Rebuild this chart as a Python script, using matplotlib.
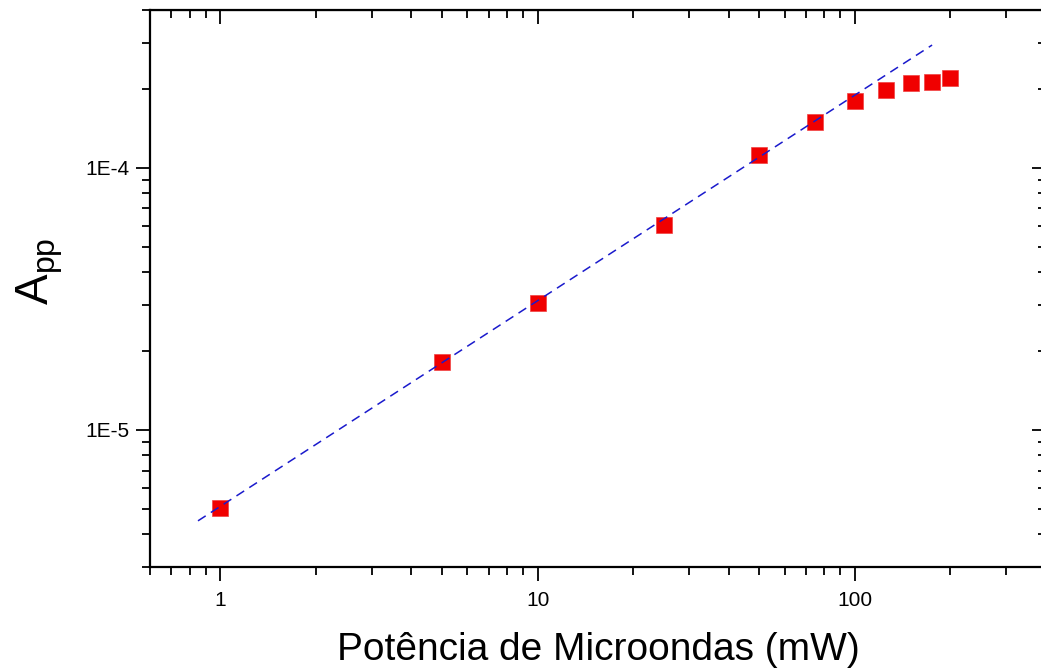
import matplotlib
matplotlib.use('Agg')
import matplotlib.pyplot as plt
from matplotlib.ticker import LogLocator, FixedLocator, FixedFormatter, NullFormatter

plt.rcParams['font.family'] = ['Liberation Sans', 'DejaVu Sans']
plt.rcParams['mathtext.fontset'] = 'custom'
plt.rcParams['mathtext.rm'] = 'Liberation Sans'

# data
power_mw = [1, 5, 10, 25, 50, 75, 100, 125, 150, 175, 200]
app = [5.05e-6, 1.81e-5, 3.04e-5, 6.07e-5, 1.12e-4, 1.50e-4, 1.80e-4,
       1.98e-4, 2.10e-4, 2.12e-4, 2.20e-4]

# ends of the dashed fit line
fit_x = [0.85, 175]
fit_y = [4.5e-6, 2.94e-4]

x_ticks = [1, 10, 100]
x_labels = ['1', '10', '100']
y_ticks = [1e-5, 1e-4]
y_labels = ['1E-5', '1E-4']

fig = plt.figure(figsize=(10.41, 6.71), dpi=100)
ax = fig.add_axes([150 / 1041, 104 / 671, 896 / 1041, 557 / 671])

ax.plot(fit_x, fit_y, color='#1a1acc', lw=1.1, linestyle=(0, (6, 4)), zorder=3)
ax.plot(power_mw, app, 's', color='#f00000', markersize=11,
        markeredgewidth=0.5, markeredgecolor='#f04040', zorder=2)

ax.set_xscale('log')
ax.set_yscale('log')
ax.set_xlim(0.6, 400)
ax.set_ylim(3e-6, 4e-4)

minor = LogLocator(base=10, subs=range(2, 10), numticks=20)
ax.xaxis.set_major_locator(FixedLocator(x_ticks))
ax.xaxis.set_major_formatter(FixedFormatter(x_labels))
ax.xaxis.set_minor_locator(minor)
ax.xaxis.set_minor_formatter(NullFormatter())
ax.yaxis.set_major_locator(FixedLocator(y_ticks))
ax.yaxis.set_major_formatter(FixedFormatter(y_labels))
ax.yaxis.set_minor_locator(LogLocator(base=10, subs=range(2, 10), numticks=20))
ax.yaxis.set_minor_formatter(NullFormatter())

for s in ax.spines.values():
    s.set_linewidth(1.6)

ax.tick_params(which='both', bottom=True, left=True, top=False, right=False,
               direction='out', width=1.3, colors='black')
ax.tick_params(which='major', length=10, labelsize=15)
ax.tick_params(which='minor', length=6)
ax.tick_params(axis='x', pad=7)
ax.tick_params(axis='y', pad=5)

# inward ticks on top and right, without labels
axt = ax.secondary_xaxis('top')
axt.xaxis.set_major_locator(FixedLocator(x_ticks))
axt.xaxis.set_minor_locator(LogLocator(base=10, subs=range(2, 10), numticks=20))
axt.tick_params(which='both', direction='in', width=1.3, labeltop=False)
axt.tick_params(which='major', length=10)
axt.tick_params(which='minor', length=6)
axt.xaxis.set_minor_formatter(NullFormatter())
axr = ax.secondary_yaxis('right')
axr.yaxis.set_major_locator(FixedLocator(y_ticks))
axr.yaxis.set_minor_locator(LogLocator(base=10, subs=range(2, 10), numticks=20))
axr.tick_params(which='both', direction='in', width=1.3, labelright=False)
axr.tick_params(which='major', length=10)
axr.tick_params(which='minor', length=6)
axr.yaxis.set_minor_formatter(NullFormatter())

ax.set_xlabel('Potência de Microondas (mW)', fontsize=28, labelpad=16)
ax.set_ylabel(r'$\mathregular{A_{pp}}$', fontsize=33)
ax.yaxis.set_label_coords(-0.095, 0.53)

fig.savefig('out.png', dpi=100)
